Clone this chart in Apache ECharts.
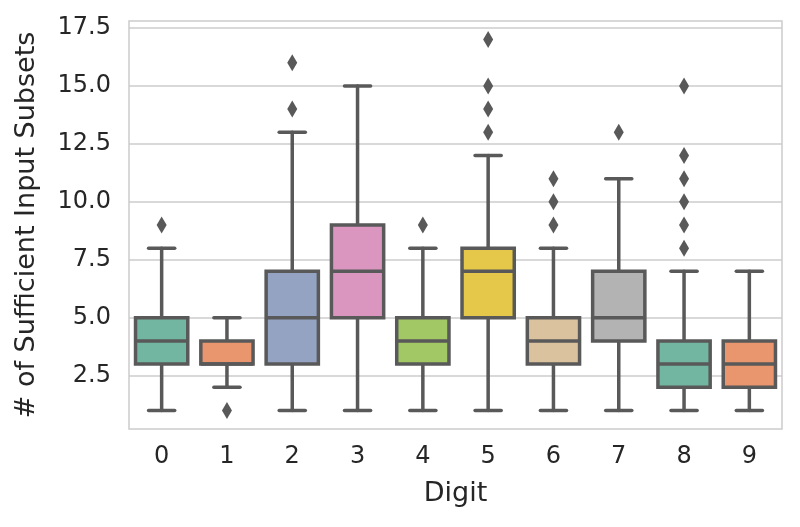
<!DOCTYPE html>
<html>
<head>
<meta charset="utf-8">
<script src="https://cdn.jsdelivr.net/npm/echarts@6/dist/echarts.min.js"></script>
<style>
  html, body { margin: 0; padding: 0; background: #fff; }
  #chart { width: 800px; height: 527px; }
</style>
</head>
<body>
<div id="chart"></div>
<script>
// box stats per digit
const digits = ['0', '1', '2', '3', '4', '5', '6', '7', '8', '9'];
const mins    = [1, 2, 1, 1, 1, 1, 1, 1, 1, 1];
const q1s     = [3, 3, 3, 5, 3, 5, 3, 4, 2, 2];
const medians = [4, 3, 5, 7, 4, 7, 4, 5, 3, 3];
const q3s     = [5, 4, 7, 9, 5, 8, 5, 7, 4, 4];
const maxs    = [8, 5, 13, 15, 8, 12, 8, 11, 7, 7];

// fliers
const outlierDigit = [0, 1, 2, 2, 4, 5, 5, 5, 5, 6, 6, 6, 7, 8, 8, 8, 8, 8, 8];
const outlierValue = [9, 1, 14, 16, 9, 13, 14, 15, 17, 9, 10, 11, 13, 8, 9, 10, 11, 12, 15];

const yTicks = [2.5, 5.0, 7.5, 10.0, 12.5, 15.0, 17.5];

// Set2, desaturated like seaborn does
const palette = ['#72b6a1', '#e9966f', '#95a3c3', '#db96c0', '#a2c865',
                 '#e5c849', '#dbc29e', '#b3b3b3', '#72b6a1', '#e9966f'];
const lineColor = '#595959';
const textColor = '#262626';

const boxData = digits.map((d, i) => [i, mins[i], q1s[i], medians[i], q3s[i], maxs[i]]);
const fliers = outlierDigit.map((d, i) => [d, outlierValue[i]]);

function renderBox(params, api) {
  const i = api.value(0);
  const w = api.size([1, 0])[0] * 0.8;
  const x = api.coord([i, 0])[0];
  const yMin = api.coord([i, api.value(1)])[1];
  const yQ1 = api.coord([i, api.value(2)])[1];
  const yMed = api.coord([i, api.value(3)])[1];
  const yQ3 = api.coord([i, api.value(4)])[1];
  const yMax = api.coord([i, api.value(5)])[1];
  const capW = w / 4;
  const line = { stroke: lineColor, lineWidth: 3.5, lineCap: 'round' };
  return {
    type: 'group',
    children: [
      { type: 'line', shape: { x1: x, y1: yQ1, x2: x, y2: yMin }, style: line },
      { type: 'line', shape: { x1: x, y1: yQ3, x2: x, y2: yMax }, style: line },
      { type: 'line', shape: { x1: x - capW, y1: yMin, x2: x + capW, y2: yMin }, style: line },
      { type: 'line', shape: { x1: x - capW, y1: yMax, x2: x + capW, y2: yMax }, style: line },
      {
        type: 'rect',
        shape: { x: x - w / 2, y: yQ3, width: w, height: yQ1 - yQ3 },
        style: { fill: palette[i], stroke: lineColor, lineWidth: 3.5 }
      },
      { type: 'line', shape: { x1: x - w / 2, y1: yMed, x2: x + w / 2, y2: yMed }, style: { stroke: lineColor, lineWidth: 3.5 } }
    ]
  };
}

const chart = echarts.init(document.getElementById('chart'));
chart.setOption({
  animation: false,
  textStyle: { fontFamily: 'DejaVu Sans' },
  grid: {
    left: 129, right: 18, top: 21, bottom: 98,
    show: true, borderColor: '#cccccc', borderWidth: 1.5, backgroundColor: 'transparent'
  },
  xAxis: {
    type: 'category',
    data: digits,
    boundaryGap: true,
    name: 'Digit',
    nameLocation: 'middle',
    nameGap: 51,
    nameTextStyle: { fontSize: 27, color: textColor },
    axisLine: { show: false },
    axisTick: { show: false },
    axisLabel: { fontSize: 24, color: textColor, margin: 16 },
    splitLine: { show: false }
  },
  yAxis: {
    type: 'value',
    min: 0.2,
    max: 17.8,
    name: '# of Sufficient Input Subsets',
    nameLocation: 'middle',
    nameGap: 89,
    nameTextStyle: { fontSize: 27, color: textColor },
    axisLine: { show: false },
    axisTick: { show: false, customValues: yTicks },
    axisLabel: {
      fontSize: 24, color: textColor, margin: 18,
      customValues: yTicks,
      formatter: v => v.toFixed(1)
    },
    splitLine: { show: true, lineStyle: { color: '#cccccc', width: 1.5 } }
  },
  series: [
    {
      type: 'custom',
      renderItem: renderBox,
      data: boxData,
      encode: { x: 0, y: [1, 2, 3, 4, 5] },
      z: 2
    },
    {
      type: 'scatter',
      data: fliers,
      symbol: 'diamond',
      symbolSize: [10, 17],
      itemStyle: { color: lineColor, opacity: 1 },
      z: 3
    }
  ]
});
</script>
</body>
</html>
